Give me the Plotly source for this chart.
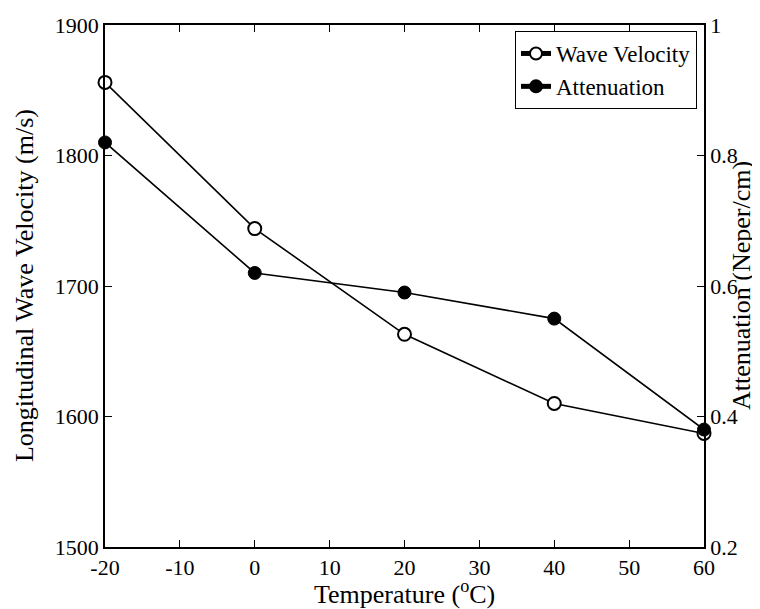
import plotly.graph_objects as go

temperature = [-20, 0, 20, 40, 60]
wave_velocity = [1856, 1744, 1663, 1610, 1587]
attenuation = [0.82, 0.62, 0.59, 0.55, 0.38]

x_ticks = [-20, -10, 0, 10, 20, 30, 40, 50, 60]
x_labels = ["-20", "-10", "0", "10", "20", "30", "40", "50", "60"]
y1_ticks = [1500, 1600, 1700, 1800, 1900]
y2_ticks = [0.2, 0.4, 0.6, 0.8, 1.0]
y2_labels = ["0.2", "0.4", "0.6", "0.8", "1"]

FONT = "Liberation Serif"
TICK_SIZE = 22
LEGEND_SIZE = 23
LABEL_SIZE = 26

fig = go.Figure()
fig.add_trace(go.Scatter(
    x=temperature, y=wave_velocity, name="Wave Velocity",
    mode="lines+markers",
    line=dict(color="black", width=1.6),
    marker=dict(symbol="circle", size=13, color="white",
                line=dict(color="black", width=2)),
    yaxis="y", cliponaxis=False,
))
fig.add_trace(go.Scatter(
    x=temperature, y=attenuation, name="Attenuation",
    mode="lines+markers",
    line=dict(color="black", width=1.6),
    marker=dict(symbol="circle", size=13, color="black",
                line=dict(color="black", width=1)),
    yaxis="y2", cliponaxis=False,
))

axis_common = dict(
    showgrid=False, zeroline=False, showline=True, linecolor="black",
    linewidth=1.5, ticks="inside", ticklen=7, tickwidth=1, tickcolor="black",
    tickfont=dict(family=FONT, size=TICK_SIZE, color="black"),
    automargin=False,
)

fig.update_layout(
    width=760, height=609,
    margin=dict(l=97, r=64, t=17, b=70),
    paper_bgcolor="white", plot_bgcolor="white",
    font=dict(family=FONT, size=LABEL_SIZE, color="black"),
    xaxis=dict(
        range=[-20, 60], tickvals=x_ticks, ticktext=x_labels, mirror="ticks",
        **axis_common,
    ),
    yaxis=dict(
        range=[1500, 1900], tickvals=y1_ticks,
        **axis_common,
    ),
    yaxis2=dict(
        range=[0.2, 1.0], tickvals=y2_ticks, ticktext=y2_labels,
        overlaying="y", side="right",
        **axis_common,
    ),
    legend=dict(
        x=0.9883, y=0.9885, xanchor="right", yanchor="top",
        bordercolor="black", borderwidth=1, bgcolor="white",
        font=dict(family=FONT, size=LEGEND_SIZE),
        tracegroupgap=0, itemsizing="constant",
    ),
    showlegend=True,
    annotations=[
        dict(text="Temperature (<sup>o</sup>C)", xref="paper", yref="paper",
             x=0.5, y=-0.088, xanchor="center", yanchor="middle",
             showarrow=False, font=dict(family=FONT, size=LABEL_SIZE)),
        dict(text="Longitudinal Wave Velocity (m/s)", xref="paper", yref="paper",
             x=-0.1352, y=0.5, xanchor="center", yanchor="middle", textangle=-90,
             showarrow=False, font=dict(family=FONT, size=LABEL_SIZE)),
        dict(text="Attenuation (Neper/cm)", xref="paper", yref="paper",
             x=1.0618, y=0.5, xanchor="center", yanchor="middle", textangle=-90,
             showarrow=False, font=dict(family=FONT, size=LABEL_SIZE)),
    ],
)

fig.write_html("out.html")
